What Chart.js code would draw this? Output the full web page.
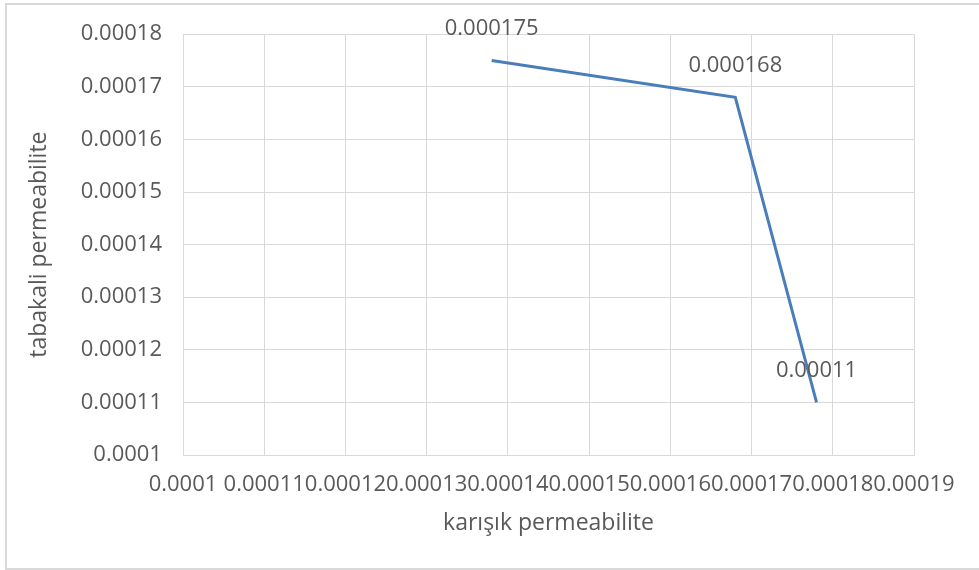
<!DOCTYPE html>
<html>
<head>
<meta charset="utf-8">
<script src="https://cdn.jsdelivr.net/npm/chart.js@4.4.1/dist/chart.umd.min.js"></script>
<style>
  html, body { margin: 0; padding: 0; background: #ffffff; }
  #wrap { position: relative; width: 979px; height: 570px; overflow: hidden; }
  #frame { position: absolute; left: 5px; top: 3px; width: 990px; height: 563px;
           border: 2px solid #d9d9d9; border-right: none; }
  canvas { position: absolute; left: 0; top: 0; }
</style>
</head>
<body>
<div id="wrap">
  <div id="frame"></div>
  <canvas id="myChart" width="979" height="570"></canvas>
</div>
<script>
// values
var xValues = [0.000138, 0.000168, 0.000178]
var yValues = [0.000175, 0.000168, 0.00011]
var pointLabels = ['0.000175', '0.000168', '0.00011']

var xTickLabels = ['0.0001', '0.00011', '0.00012', '0.00013', '0.00014', '0.00015', '0.00016', '0.00017', '0.00018', '0.00019']
var yTickLabels = ['0.0001', '0.00011', '0.00012', '0.00013', '0.00014', '0.00015', '0.00016', '0.00017', '0.00018']

var xTitle = 'karışık permeabilite'
var yTitle = 'tabakali permeabilite'

var textColor = '#595959'
var gridColor = '#d9d9d9'
var fontFamily = "'Open Sans', 'Liberation Sans', sans-serif"

var points = []
for (var i = 0; i < xValues.length; i++) {
    points.push({ x: xValues[i], y: yValues[i] })
}

// draws value labels above each point (like excel "above" labels)
var valueLabels = {
    id: 'valueLabels',
    afterDatasetsDraw: function (chart) {
        var ctx = chart.ctx
        var meta = chart.getDatasetMeta(0)
        ctx.save()
        ctx.font = '22px ' + fontFamily
        ctx.fillStyle = textColor
        ctx.textAlign = 'center'
        ctx.textBaseline = 'middle'
        meta.data.forEach(function (el, i) {
            ctx.fillText(pointLabels[i], el.x, el.y - 32)
        })
        ctx.restore()
    }
}

var ctx = document.getElementById('myChart')

new Chart(ctx, {
    type: 'scatter',
    data: {
        datasets: [{
            data: points,
            showLine: true,
            borderColor: '#4a7ebb',
            backgroundColor: '#4a7ebb',
            borderWidth: 3,
            pointRadius: 0,
            tension: 0
        }]
    },
    options: {
        responsive: false,
        animation: false,
        layout: { padding: { left: 22, top: 33, right: 65, bottom: 29 } },
        plugins: {
            legend: { display: false },
            tooltip: { enabled: false }
        },
        scales: {
            x: {
                type: 'linear',
                min: 0.0001,
                max: 0.00019,
                afterFit: function (scale) { scale.height = 86 },
                grid: { color: gridColor, drawTicks: false },
                border: { color: gridColor },
                ticks: {
                    stepSize: 0.00001,
                    autoSkip: false,
                    maxRotation: 0,
                    minRotation: 0,
                    padding: 17,
                    color: textColor,
                    font: { family: fontFamily, size: 22 },
                    callback: function (value, index) { return xTickLabels[index] }
                },
                title: {
                    display: true,
                    text: xTitle,
                    color: textColor,
                    padding: { top: 4, bottom: 4 },
                    font: { family: fontFamily, size: 23 }
                }
            },
            y: {
                type: 'linear',
                min: 0.0001,
                max: 0.00018,
                afterFit: function (scale) { scale.width = 161 },
                grid: { color: gridColor, drawTicks: false },
                border: { color: gridColor },
                ticks: {
                    stepSize: 0.00001,
                    padding: 21,
                    color: textColor,
                    font: { family: fontFamily, size: 22 },
                    callback: function (value, index) { return yTickLabels[index] }
                },
                title: {
                    display: true,
                    text: yTitle,
                    color: textColor,
                    padding: { top: 4, bottom: 4 },
                    font: { family: fontFamily, size: 23 }
                }
            }
        }
    },
    plugins: [valueLabels]
})
</script>
</body>
</html>
